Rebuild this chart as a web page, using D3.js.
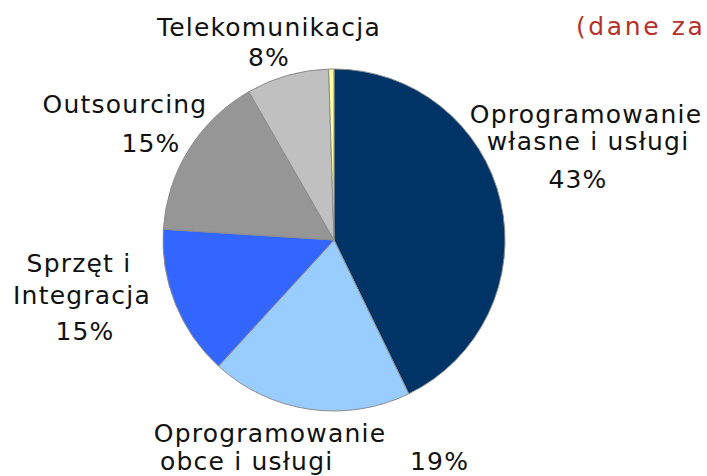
<!DOCTYPE html>
<html>
  <head>
    <meta charset="utf-8">
    <title>Struktura przychodów</title>
    <script src="https://d3js.org/d3.v7.min.js"></script>
    <style>
      body { margin: 0; background: #fff; }
      svg { display: block; }
      text { font-family: "DejaVu Sans", Verdana, sans-serif; font-size: 25px; letter-spacing: 1.2px; fill: #111; }
      .title { fill: #b5312b; letter-spacing: 2.6px; }
    </style>
  </head>
  <body>
    <svg id="chart" width="707" height="476"></svg>
    <script>
      // data
      var categories = ["Oprogramowanie własne i usługi", "Oprogramowanie obce i usługi", "Sprzęt i Integracja", "Outsourcing", "Telekomunikacja", "Inne"];
      var shares = [42.8, 19.0, 14.2, 15.7, 7.8, 0.5];
      var shareLabels = ["43%", "19%", "15%", "15%", "8%", ""];
      var colours = ["#003366", "#99ccff", "#3366ff", "#969696", "#c0c0c0", "#ffff99"];

      // label layout: lines of each slice label, [text, x, baseline y, anchor]
      var labelLines = [
        [["Oprogramowanie", 586, 123, "middle"], ["własne i usługi", 588, 150, "middle"], ["%", 578, 188, "middle"]],
        [["Oprogramowanie", 270, 442, "middle"], ["obce i usługi", 160, 470, "start"], ["%", 410, 470, "start"]],
        [["Sprzęt i", 79, 272, "middle"], ["Integracja", 82, 304, "middle"], ["%", 85, 340, "middle"]],
        [["Outsourcing", 125, 113, "middle"], ["%", 151, 152, "middle"]],
        [["Telekomunikacja", 269, 36, "middle"], ["%", 269, 66, "middle"]],
        []
      ];

      var svg = d3.select("#chart");
      var cx = 334, cy = 240, r = 171;

      var pie = d3.pie().sort(null).value(function(d) { return d; });
      var arc = d3.arc().innerRadius(0).outerRadius(r);

      var g = svg.append("g").attr("transform", "translate(" + cx + "," + cy + ")");
      g.selectAll("path")
        .data(pie(shares))
        .enter().append("path")
          .attr("d", arc)
          .attr("fill", function(d, i) { return colours[i]; })
          .attr("stroke", "#8c8c8c")
          .attr("stroke-width", 1);

      // slice labels
      labelLines.forEach(function(lines, i) {
        lines.forEach(function(l) {
          svg.append("text")
            .attr("x", l[1])
            .attr("y", l[2])
            .attr("text-anchor", l[3])
            .text(l[0] === "%" ? shareLabels[i] : l[0]);
        });
      });

      // title, runs up to the right edge as in the original
      svg.append("text")
        .classed("title", true)
        .attr("x", 576)
        .attr("y", 35)
        .text("(dane za");
    </script>
  </body>
</html>
